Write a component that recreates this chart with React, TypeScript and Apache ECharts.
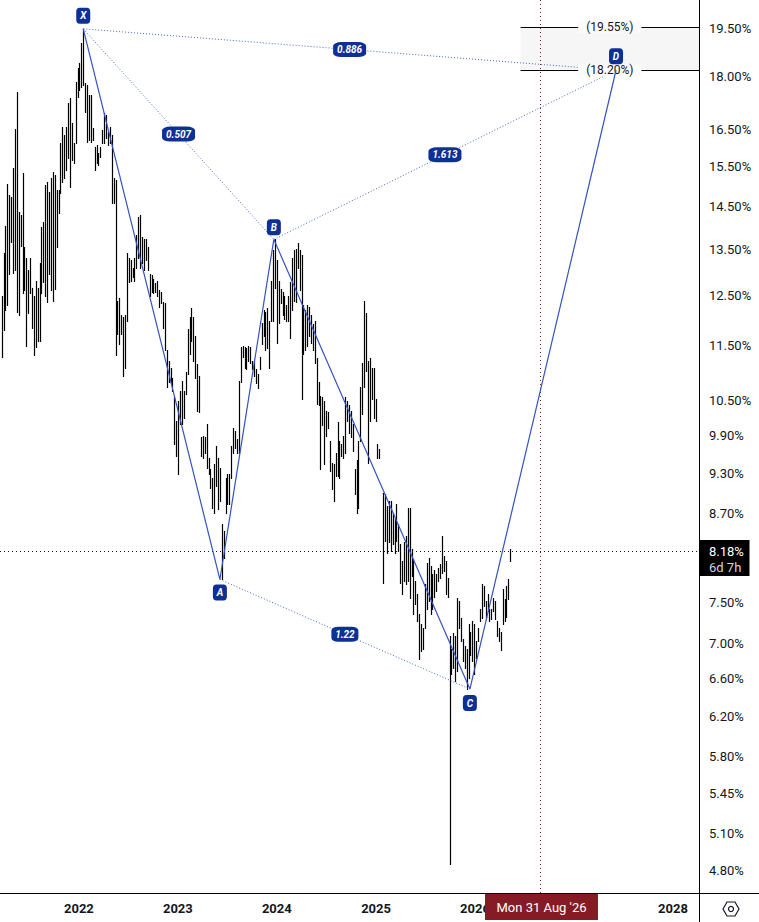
import React, { useEffect, useRef } from 'react';
import * as echarts from 'echarts';

// ---------- data ----------
// weekly bars: [high, low] in %
const earlyStart = '2021-03-22';
const earlyHighLow: [number, number][] = [
  [12.50,11.28],[13.43,11.81],[14.03,12.20],[15.05,12.30],[14.78,12.95],[14.73,13.66],[15.46,12.99],[16.50,13.04],[17.55,12.16],[14.37,12.10],
  [14.30,13.59],[15.33,12.55],[13.55,12.61],[13.32,11.50],[13.04,12.14],[13.32,12.55],[12.67,11.85],[12.50,11.32],[12.82,11.47],[12.67,11.60],
  [13.21,11.60],[14.01,12.55],[14.13,12.78],[15.03,12.50],[15.10,12.36],[14.86,12.97],[15.22,12.61],[15.35,12.40],[15.28,12.65],[14.90,13.55],
  [14.90,14.34],[16.12,14.83],[16.56,15.10],[16.34,15.22],[16.56,15.40],[17.23,15.72],[17.38,14.98],[16.67,15.66],[16.12,15.59],[17.85,16.12],
  [18.26,17.41],[18.42,17.61],[19.05,17.70],[19.50,17.76],[17.82,16.97],[17.76,16.15],[17.46,16.20],[17.46,16.15],[16.53,16.20],[16.01,15.40],
  [16.07,15.59],[15.85,15.53],[16.01,15.74],
  [16.47,16.12],[16.95,16.12],[16.89,16.26],[16.42,16.07],[16.56,16.12],[16.34,14.58],[15.22,14.58],[15.15,11.32],[12.40,11.73],[12.46,11.54],
  [12.10,11.73],[12.06,10.94],[12.10,11.09],[13.43,11.99],[13.32,12.78],[13.26,12.82],[13.10,12.89],[13.32,12.82],[13.82,13.10],[14.25,13.32],
  [14.30,13.10],[13.78,13.21],[13.75,13.04],[13.75,13.26],[13.55,13.04],[12.97,12.50],[12.93,12.57],[12.86,12.55],[12.76,12.57],[12.82,12.50],
  [12.61,12.26],[12.57,12.34],[12.36,11.85],[12.34,11.41],[11.41,10.73],[11.22,10.82],[11.09,10.80],[10.90,10.67],[10.55,9.76],[10.15,9.57],
  [10.49,9.29],[10.67,10.10],[10.85,10.10],[10.67,10.20],[11.00,10.62],[11.83,10.98],[12.06,11.35],[12.24,11.60],[12.06,11.22],[11.69,10.90],
  [11.16,10.32],[10.94,10.29],[9.87,9.57],[9.90,9.54],[9.87,9.61],[10.10,9.38],[9.53,9.29],[9.37,9.08],[9.23,8.77],[9.45,8.70],
  [9.73,9.11],[9.53,8.76],[9.38,8.88],[8.54,7.79],[8.45,8.08],[9.23,8.70],[9.29,8.83],[9.29,8.83],[9.73,9.23],[10.03,9.61],
  [9.98,9.70],[9.85,9.61],[10.85,9.61],[11.47,10.82],[11.50,11.28],[11.47,11.09],[11.45,11.07],[11.50,11.22],[11.47,11.18],[11.22,11.07],
  [11.22,10.94],[11.07,10.80],[10.98,10.71],[11.28,11.07],[11.95,11.54],[12.20,11.69],[12.16,11.41],[12.24,11.45],[11.99,11.09],[12.82,11.99],
  [13.48,11.99],[13.75,12.67],[13.26,11.56],[12.82,11.95],[12.65,12.34],[12.57,12.10],[12.50,12.03],[12.30,11.99],[12.50,11.99],[12.78,11.64],
  [13.30,12.20],[13.48,12.40],[13.52,12.36],[13.64,13.10],
  [13.48,12.61],[13.37,10.53],[12.30,11.35],[12.20,11.41],[12.30,11.50],[12.26,11.69],[12.10,11.56],[11.93,11.41],[11.99,11.18],[11.26,10.44],
  [10.82,10.41],[10.58,9.37],[10.55,10.07],[10.49,9.45],[10.32,9.90],[10.29,10.02],[9.81,9.34],[9.46,9.06],[9.45,8.88],[9.61,9.26],
  [10.12,9.26],[9.81,9.23],[9.76,9.57],[9.90,9.54],[10.55,9.62],[10.49,10.15],[10.41,9.95],[10.32,9.87],[10.10,9.65],[9.37,8.98],
  [9.50,8.70],[9.81,8.77],[10.73,9.81],[11.18,10.27],[12.40,10.73],[12.14,11.03],[11.22,9.46],[11.26,10.15],[11.09,10.53],[11.09,10.20],
  [10.53,10.15],[9.76,9.54],[9.68,9.53],
];
const lateStart = '2025-01-27';
const lateHighLow: [number, number][] = [
  [9.00,7.74],[8.98,8.31],[8.80,8.14],[8.88,8.29],[8.88,8.17],[8.70,8.27],[8.63,8.14],[8.83,8.31],[8.54,8.17],[8.27,7.74],
  [8.04,7.60],[8.29,7.77],[8.38,7.73],[8.77,7.77],[8.77,7.55],[8.19,7.83],[8.06,7.35],[7.77,7.48],[7.60,7.27],[7.35,6.82],
  [7.23,6.91],[7.18,6.94],[7.73,7.18],[8.01,7.41],[8.08,7.51],[7.97,7.35],[7.86,7.42],[7.92,7.57],[7.86,7.64],[7.94,7.77],
  [7.99,7.81],[8.38,7.87],[8.10,7.90],[8.04,7.60],[7.81,7.57],[7.09,4.85],[6.94,6.66],[7.12,6.72],[7.09,6.58],[7.55,6.69],
  [7.51,7.18],[7.30,7.03],[7.06,6.80],[6.97,6.72],[6.94,6.49],[7.23,6.61],[7.14,6.87],[7.27,6.80],[7.23,6.66],[7.03,6.83],
  [7.18,7.03],[7.42,7.27],[7.73,7.30],[7.70,7.45],[7.51,7.30],[7.60,7.39],[7.42,7.27],[7.41,7.29],[7.55,7.39],[7.51,7.29],
  [7.27,7.09],[7.18,7.03],[7.14,6.93],[7.67,7.23],[7.54,7.27],[7.70,7.32],[7.79,7.54],[8.20,8.03],
];

const patternLetters = ['X', 'A', 'B', 'C', 'D'];
const patternDates = ['2022-01-17', '2023-06-05', '2023-12-21', '2025-12-13', '2027-06-05'];
const patternValues = [19.5, 7.79, 13.73, 6.49, 18.2];
const ratioTexts = ['0.507', '0.886', '1.22', '1.613'];
const ratioLegs: [number, number][] = [[0, 2], [0, 4], [1, 3], [2, 4]];
const letterOffsets = [-13, 13, -12, 14, -14];

const targetLevels = [19.55, 18.2];
const targetFrom = '2026-06-18';

const yTickLabels = [19.5, 18.0, 16.5, 15.5, 14.5, 13.5, 12.5, 11.5, 10.5, 9.9, 9.3, 8.7, 7.5, 7.0, 6.6, 6.2, 5.8, 5.45, 5.1, 4.8];
const xTickYears = [2022, 2023, 2024, 2025, 2026, 2028];

const lastPrice = 8.18;
const countdownText = '6d 7h';
const cursorDate = '2026-08-31';
const cursorText = "Mon 31 Aug '26";

const axisStart = '2021-03-16';
const axisEnd = '2028-04-06';
const priceMin = 4.62;
const priceMax = 20.46;

// ---------- helpers / styles ----------
const DAY = 864e5;
const ts = (s: string) => Date.parse(s + 'T00:00:00Z');
const FONT = 'Roboto, "Noto Sans", "Liberation Sans", sans-serif';
const TXT = '#131722';
const LINE_BLUE = '#3453bf';
const DOT_BLUE = '#4a66c9';
const LABEL_BG = '#0d3095';
const W = 759;
const H = 922;
const GRID_RIGHT = 60;
const GRID_BOTTOM = 29;

export default function App() {
  const ref = useRef<HTMLDivElement>(null);

  useEffect(() => {
    if (!ref.current) return;
    const chart = echarts.init(ref.current, null, { renderer: 'svg' });

    const toBars = (start: string, rows: [number, number][]) =>
      rows.map(([h, l], i) => [ts(start) + i * 7 * DAY, Math.log(h), Math.log(l)]);
    const barData = [...toBars(earlyStart, earlyHighLow), ...toBars(lateStart, lateHighLow)];
    const pat = patternDates.map((d, i) => [ts(d), Math.log(patternValues[i])]);

    const legSeries = ratioLegs.map(([a, b]) => ({
      type: 'line',
      data: [pat[a], pat[b]],
      symbol: 'none',
      lineStyle: { color: DOT_BLUE, width: 1, type: [1, 2] },
      z: 4,
      silent: true,
    }));

    const ratioData = ratioLegs.map(([a, b], i) => ({
      value: [(pat[a][0] + pat[b][0]) / 2, (pat[a][1] + pat[b][1]) / 2],
      name: ratioTexts[i],
      symbolSize: [ratioTexts[i].length * 6 + 3, 15],
    }));

    const letterData = pat.map((p, i) => ({
      value: p,
      name: patternLetters[i],
      symbolOffset: [0, letterOffsets[i]],
    }));

    const targetMarkLines = targetLevels.map((lv) => [
      {
        coord: [ts(targetFrom), Math.log(lv)],
        label: {
          show: true,
          position: 'insideMiddle',
          formatter: '(' + lv.toFixed(2) + '%)',
          color: TXT,
          fontSize: 12,
          fontFamily: FONT,
          backgroundColor: '#fbfbfb',
          padding: [0, 8],
          distance: 0,
        },
      },
      { coord: [ts(axisEnd), Math.log(lv)] },
    ]);

    const labelText = {
      show: true,
      position: 'inside',
      formatter: (p: any) => p.name,
      color: '#ffffff',
      fontSize: 10,
      fontWeight: 'bold',
      fontStyle: 'italic',
      fontFamily: FONT,
    };

    const option: any = {
      animation: false,
      backgroundColor: '#ffffff',
      grid: { left: 0, right: GRID_RIGHT, top: 0, bottom: GRID_BOTTOM, containLabel: false, outerBoundsMode: 'none' },
      xAxis: {
        type: 'value',
        min: ts(axisStart),
        max: ts(axisEnd),
        axisLine: { show: false },
        axisTick: { show: false },
        splitLine: { show: false },
        axisLabel: {
          customValues: xTickYears.map((y) => Date.UTC(y, 0, 1)),
          formatter: (v: number) => String(new Date(v).getUTCFullYear()),
          color: TXT,
          fontSize: 13,
          fontWeight: 'bold',
          fontFamily: FONT,
          margin: 9,
        },
      },
      yAxis: {
        type: 'value',
        position: 'right',
        min: Math.log(priceMin),
        max: Math.log(priceMax),
        axisLine: { show: false },
        axisTick: { show: false },
        splitLine: { show: false },
        axisLabel: {
          customValues: yTickLabels.map((v) => Math.log(v)),
          formatter: (v: number) => Math.exp(v).toFixed(2) + '%',
          color: TXT,
          fontSize: 13,
          fontFamily: FONT,
          margin: 10,
        },
      },
      series: [
        {
          // target zone
          type: 'line',
          data: targetLevels.map((lv) => [ts(targetFrom), Math.log(lv)]),
          symbol: 'none',
          lineStyle: { width: 0, opacity: 0 },
          silent: true,
          z: 1,
          markArea: {
            silent: true,
            itemStyle: { color: '#f6f6f6' },
            data: [[
              { coord: [ts(targetFrom), Math.log(targetLevels[1])] },
              { coord: [ts(axisEnd), Math.log(targetLevels[0])] },
            ]],
          },
          markLine: {
            silent: true,
            symbol: ['none', 'none'],
            lineStyle: { color: '#000000', width: 1, type: 'solid' },
            data: targetMarkLines,
          },
        },
        {
          type: 'custom',
          data: barData,
          encode: { x: 0, y: [1, 2] },
          clip: true,
          silent: true,
          z: 2,
          renderItem: (params: any, api: any) => {
            const p1 = api.coord([api.value(0), api.value(1)]);
            const p2 = api.coord([api.value(0), api.value(2)]);
            const x = Math.round(p1[0]) + 0.5;
            return {
              type: 'line',
              shape: { x1: x, y1: Math.round(p1[1]), x2: x, y2: Math.round(p2[1]) + 1 },
              style: { stroke: '#000000', lineWidth: 1.2 },
            };
          },
          markLine: {
            silent: true,
            symbol: ['none', 'none'],
            label: { show: false },
            data: [
              { yAxis: Math.log(lastPrice), lineStyle: { color: '#131722', width: 1, type: [1, 3] } },
              { xAxis: ts(cursorDate), lineStyle: { color: '#7d1520', width: 1, type: [1, 3] } },
            ],
          },
        },
        {
          type: 'line',
          data: pat,
          symbol: 'none',
          lineStyle: { color: LINE_BLUE, width: 1.2 },
          silent: true,
          z: 5,
        },
        ...legSeries,
        {
          type: 'scatter',
          data: ratioData,
          symbol: 'roundRect',
          itemStyle: { color: LABEL_BG, opacity: 1 },
          silent: true,
          z: 8,
          label: labelText,
        },
        {
          type: 'scatter',
          data: letterData,
          symbol: 'roundRect',
          symbolSize: [14, 16],
          itemStyle: { color: LABEL_BG, opacity: 1 },
          silent: true,
          z: 8,
          label: labelText,
        },
      ],
    };

    chart.setOption(option);

    const cx = chart.convertToPixel({ xAxisIndex: 0 }, ts(cursorDate)) as number;
    const py = chart.convertToPixel({ yAxisIndex: 0 }, Math.log(lastPrice)) as number;
    const axX = W - GRID_RIGHT + 0.5;
    const axY = H - GRID_BOTTOM + 0.5;
    const hx = 731;
    const hy = 909;

    chart.setOption({
      graphic: [
        { type: 'line', z: 50, shape: { x1: axX, y1: 0, x2: axX, y2: H }, style: { stroke: '#000000', lineWidth: 1 } },
        { type: 'line', z: 50, shape: { x1: 0, y1: axY, x2: W, y2: axY }, style: { stroke: '#000000', lineWidth: 1 } },
        { type: 'rect', z: 60, shape: { x: axX, y: Math.round(py) - 10, width: 50, height: 36 }, style: { fill: '#000000' } },
        {
          type: 'text', z: 61, x: axX + 9.5, y: Math.round(py) + 1,
          style: { text: lastPrice.toFixed(2) + '%', fill: '#ffffff', font: '13px ' + FONT, verticalAlign: 'middle', align: 'left' },
        },
        {
          type: 'text', z: 61, x: axX + 9.5, y: Math.round(py) + 17,
          style: { text: countdownText, fill: '#d1d4dc', font: '13px ' + FONT, verticalAlign: 'middle', align: 'left' },
        },
        { type: 'rect', z: 60, shape: { x: Math.round(cx) - 56, y: axY + 0.5, width: 113, height: 26 }, style: { fill: '#861b25' } },
        {
          type: 'text', z: 61, x: Math.round(cx) + 0.5, y: axY + 13.5,
          style: { text: cursorText, fill: '#ffffff', font: '13px ' + FONT, verticalAlign: 'middle', align: 'center' },
        },
        {
          type: 'polygon', z: 60,
          shape: { points: [[hx - 8, hy], [hx - 4, hy - 7], [hx + 4, hy - 7], [hx + 8, hy], [hx + 4, hy + 7], [hx - 4, hy + 7]] },
          style: { fill: 'none', stroke: TXT, lineWidth: 1.2 },
        },
        { type: 'circle', z: 60, shape: { cx: hx, cy: hy, r: 2.5 }, style: { fill: 'none', stroke: TXT, lineWidth: 1.2 } },
      ],
    });

    return () => chart.dispose();
  }, []);

  return (
    <div
      ref={ref}
      style={{ position: 'fixed', left: 0, top: 0, width: W, height: H, background: '#ffffff' }}
    />
  );
}
